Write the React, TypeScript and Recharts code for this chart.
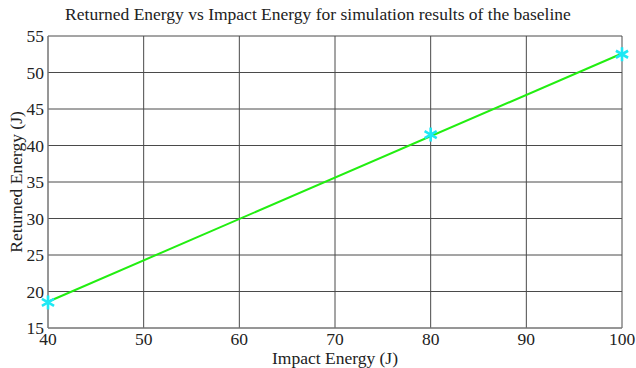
import { ScatterChart, Scatter, XAxis, YAxis, CartesianGrid } from 'recharts';

const impactEnergy = [40, 80, 100];
const returnedEnergy = [18.5, 41.5, 52.5];
const fitX = [40, 100];
const fitY = [18.6, 52.6];
const xTicks = [40, 50, 60, 70, 80, 90, 100];
const yTicks = [15, 20, 25, 30, 35, 40, 45, 50, 55];

const points = impactEnergy.map((x, i) => ({ x, y: returnedEnergy[i] }));
const fitLine = fitX.map((x, i) => ({ x, y: fitY[i] }));

const font = '"Liberation Serif", "DejaVu Serif", serif';

function Asterisk(props: any) {
  const { cx, cy } = props;
  const r = 7;
  const arms = [0, 60, 120];
  return (
    <g stroke="#1ee8f4" strokeWidth={2.6}>
      {arms.map((a) => {
        const rad = (a * Math.PI) / 180;
        const dx = Math.sin(rad) * r;
        const dy = Math.cos(rad) * r;
        return <line key={a} x1={cx - dx} y1={cy - dy} x2={cx + dx} y2={cy + dy} />;
      })}
    </g>
  );
}

function YLabel(props: any) {
  const { viewBox } = props;
  const x = 16;
  const y = viewBox.y + viewBox.height / 2;
  return (
    <text
      x={x}
      y={y}
      transform={`rotate(-90, ${x}, ${y})`}
      textAnchor="middle"
      dominantBaseline="central"
      fill="#222"
      fontSize={17.5}
      fontFamily={font}
    >
      Returned Energy (J)
    </text>
  );
}

export default function App() {
  return (
    <div style={{ position: 'absolute', left: 0, top: 0, width: 636, height: 368, background: '#fff', fontFamily: font }}>
      <div style={{ position: 'absolute', top: 4, left: 0, width: 636, textAlign: 'center', fontSize: 17.5, color: '#222' }}>
        Returned Energy vs Impact Energy for simulation results of the baseline
      </div>
      <ScatterChart width={636} height={368} margin={{ top: 36, right: 14, bottom: 0, left: 0 }}>
        <CartesianGrid stroke="#4a4a4a" strokeWidth={1} />
        <XAxis
          type="number"
          dataKey="x"
          domain={[40, 100]}
          ticks={xTicks}
          interval={0}
          axisLine={{ stroke: '#888' }}
          tickLine={false}
          tickSize={0}
          tick={{ fill: '#222', fontSize: 17.5, fontFamily: font }}
          tickMargin={5}
          height={40}
          label={{ value: 'Impact Energy (J)', position: 'insideBottom', offset: 4, fill: '#222', fontSize: 17.5, fontFamily: font }}
        />
        <YAxis
          type="number"
          dataKey="y"
          domain={[15, 55]}
          ticks={yTicks}
          interval={0}
          axisLine={{ stroke: '#888' }}
          tickLine={false}
          tickSize={0}
          tick={{ fill: '#222', fontSize: 17.5, fontFamily: font }}
          tickMargin={4}
          width={48}
          label={<YLabel />}
        />
        <Scatter
          data={fitLine}
          line={{ stroke: '#22ee11', strokeWidth: 2 }}
          shape={() => <g />}
          isAnimationActive={false}
        />
        <Scatter data={points} shape={<Asterisk />} isAnimationActive={false} />
      </ScatterChart>
    </div>
  );
}
